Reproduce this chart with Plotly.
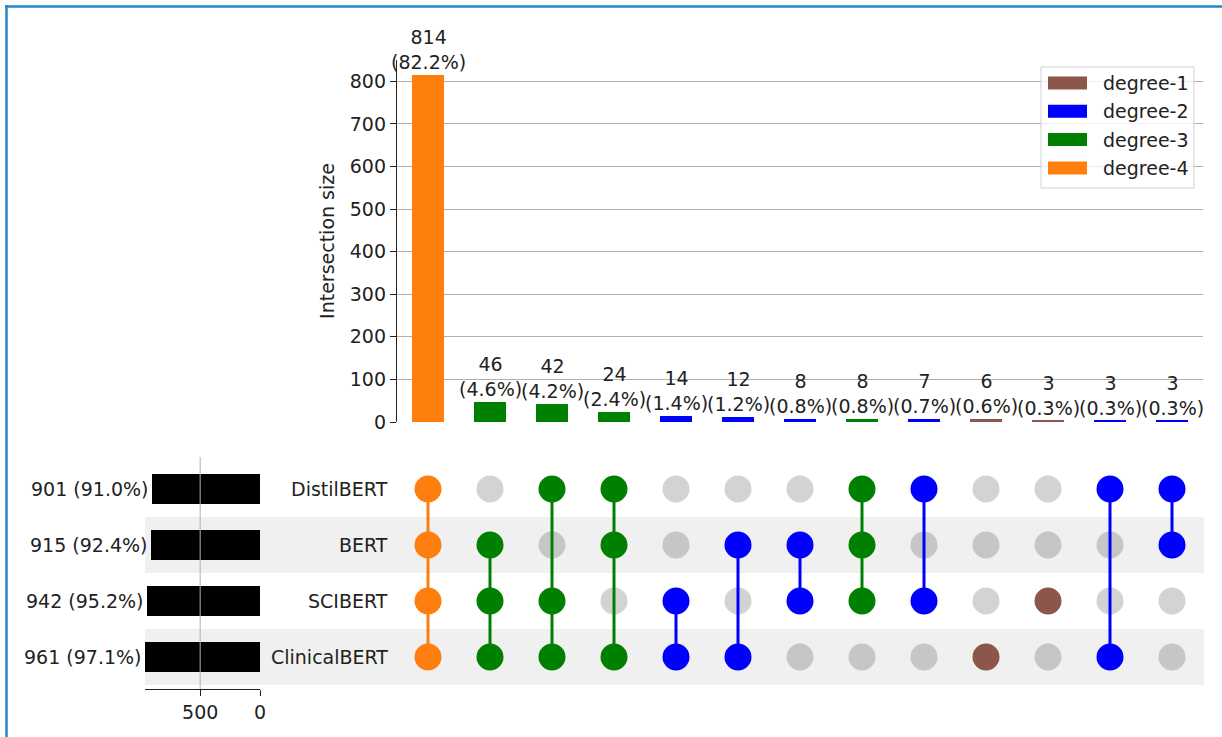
import plotly.graph_objects as go

# ---- data -------------------------------------------------------------
set_names = ["DistilBERT", "BERT", "SCIBERT", "ClinicalBERT"]
set_sizes = [901, 915, 942, 961]

intersection_sizes = [814, 46, 42, 24, 14, 12, 8, 8, 7, 6, 3, 3, 3]
intersection_members = [
    ["DistilBERT", "BERT", "SCIBERT", "ClinicalBERT"],
    ["BERT", "SCIBERT", "ClinicalBERT"],
    ["DistilBERT", "SCIBERT", "ClinicalBERT"],
    ["DistilBERT", "BERT", "ClinicalBERT"],
    ["SCIBERT", "ClinicalBERT"],
    ["BERT", "ClinicalBERT"],
    ["BERT", "SCIBERT"],
    ["DistilBERT", "BERT", "SCIBERT"],
    ["DistilBERT", "SCIBERT"],
    ["ClinicalBERT"],
    ["SCIBERT"],
    ["DistilBERT", "ClinicalBERT"],
    ["DistilBERT", "BERT"],
]

degree_labels = ["degree-1", "degree-2", "degree-3", "degree-4"]
degree_colors = ["#8c564b", "#0000ff", "#008000", "#ff7f0e"]

# ---- layout helpers (pixel geometry of a 1222 x 737 canvas) ---------
W, H = 1222, 737
FONT = "DejaVu Sans"
TXT = "#222222"
FS = 19


def px_x(p):
    return p / W


def px_y(p):
    return 1 - p / H


total = sum(intersection_sizes)
n_cols = len(intersection_sizes)
cols = list(range(n_cols))
degrees = [len(m) for m in intersection_members]
bar_colors = [degree_colors[d - 1] for d in degrees]

fig = go.Figure()

# ---- intersection size bars -----------------------------------------
fig.add_trace(go.Bar(
    x=cols, y=intersection_sizes, width=0.52,
    marker=dict(color=bar_colors, line=dict(width=0)),
    xaxis="x", yaxis="y", showlegend=False, hoverinfo="y",
))

annotations = []
for c, v in zip(cols, intersection_sizes):
    annotations.append(dict(
        x=c, y=v, xref="x", yref="y", xanchor="center", yanchor="bottom",
        text=f"{v}<br>({100 * v / total:.1f}%)", showarrow=False,
        font=dict(family=FONT, size=FS, color=TXT), yshift=0,
    ))

# ---- membership matrix ------------------------------------------------
row_of = {s: i for i, s in enumerate(set_names)}
shaded_rows = [1, 3]

inact_x, inact_y, inact_c = [], [], []
act_x, act_y, act_c = [], [], []
for c, members in enumerate(intersection_members):
    col = bar_colors[c]
    for r, s in enumerate(set_names):
        if s in members:
            act_x.append(c); act_y.append(r); act_c.append(col)
        else:
            inact_x.append(c); inact_y.append(r)
            inact_c.append("#c6c6c6" if r in shaded_rows else "#d3d3d3")

fig.add_trace(go.Scatter(
    x=inact_x, y=inact_y, mode="markers", xaxis="x2", yaxis="y2",
    marker=dict(size=27, color=inact_c, line=dict(width=0)),
    showlegend=False, hoverinfo="skip",
))

for c, members in enumerate(intersection_members):
    rows = [row_of[s] for s in members]
    if len(rows) > 1:
        fig.add_trace(go.Scatter(
            x=[c, c], y=[min(rows), max(rows)], mode="lines",
            xaxis="x2", yaxis="y2",
            line=dict(color=bar_colors[c], width=3),
            showlegend=False, hoverinfo="skip",
        ))

fig.add_trace(go.Scatter(
    x=act_x, y=act_y, mode="markers", xaxis="x2", yaxis="y2",
    marker=dict(size=27, color=act_c, line=dict(width=0)),
    showlegend=False, hoverinfo="skip",
))

# ---- set size bars ----------------------------------------------------
fig.add_trace(go.Bar(
    x=set_sizes, y=list(range(len(set_names))), orientation="h", width=0.52,
    marker=dict(color="#000000", line=dict(width=0)),
    xaxis="x3", yaxis="y3", showlegend=False, hoverinfo="x",
))

for r, (s, v) in enumerate(zip(set_names, set_sizes)):
    annotations.append(dict(
        x=v, y=r, xref="x3", yref="y3", xanchor="right", yanchor="middle",
        text=f"{v} ({100 * v / total:.1f}%)", showarrow=False, xshift=-1,
        font=dict(family=FONT, size=FS, color=TXT),
    ))
    annotations.append(dict(
        x=px_x(390), y=r, xref="paper", yref="y2", xanchor="right",
        yanchor="middle", text=s, showarrow=False,
        font=dict(family=FONT, size=FS, color=TXT),
    ))

# ---- shapes: row shading, grid line, legend, frame ---------------------
shapes = []
for r in shaded_rows:
    shapes.append(dict(
        type="rect", xref="paper", yref="y2", x0=px_x(145), x1=px_x(1204),
        y0=r - 0.5, y1=r + 0.5, fillcolor="#f0f0f0", line=dict(width=0),
        layer="below",
    ))

shapes.append(dict(
    type="line", xref="x3", yref="y3", x0=500, x1=500, y0=-0.5714, y1=3.5714,
    line=dict(color="#b0b0b0", width=1), layer="above",
))

# legend box
lx0, lx1, ly0, ly1 = 1041, 1194, 67, 188
shapes.append(dict(
    type="rect", xref="paper", yref="paper",
    x0=px_x(lx0), x1=px_x(lx1), y0=px_y(ly1), y1=px_y(ly0),
    fillcolor="rgba(255,255,255,0.8)", line=dict(color="#d0d0d0", width=1),
    layer="above",
))
for i, (lab, colr) in enumerate(zip(degree_labels, degree_colors)):
    cy = 83 + 28.3 * i
    shapes.append(dict(
        type="rect", xref="paper", yref="paper",
        x0=px_x(1048), x1=px_x(1087), y0=px_y(cy + 6.5), y1=px_y(cy - 6.5),
        fillcolor=colr, line=dict(width=0), layer="above",
    ))
    annotations.append(dict(
        x=px_x(1101), y=px_y(cy), xref="paper", yref="paper",
        xanchor="left", yanchor="middle", text=lab, showarrow=False,
        font=dict(family=FONT, size=FS, color=TXT),
    ))

# outer frame (top and left edges)
frame_col = "#1f8ac9"
shapes.append(dict(type="line", xref="paper", yref="paper",
                   x0=px_x(5), x1=1, y0=px_y(6.5), y1=px_y(6.5),
                   line=dict(color=frame_col, width=2.5), layer="above"))
shapes.append(dict(type="line", xref="paper", yref="paper",
                   x0=px_x(6.5), x1=px_x(6.5), y0=0, y1=px_y(5),
                   line=dict(color=frame_col, width=2.5), layer="above"))

# ---- axes -------------------------------------------------------------
x_dom = [px_x(397), px_x(1203)]
hidden = dict(showgrid=False, zeroline=False, showline=False,
              showticklabels=False, ticks="", automargin=False)

fig.update_layout(
    width=W, height=H,
    margin=dict(l=0, r=0, t=0, b=0, autoexpand=False),
    paper_bgcolor="white", plot_bgcolor="rgba(0,0,0,0)",
    font=dict(family=FONT, size=FS, color=TXT),
    bargap=0,
    xaxis=dict(domain=x_dom, range=[-0.5, n_cols - 0.5], anchor="y", **hidden),
    yaxis=dict(
        domain=[px_y(422), px_y(60)], range=[0, 850], anchor="x",
        tickvals=list(range(0, 801, 100)), ticks="outside", ticklen=6,
        tickcolor="#222", showline=True, linecolor="#222", linewidth=1.3,
        showgrid=True, gridcolor="#b0b0b0", gridwidth=1, zeroline=False,
        automargin=False,
        title=dict(text="Intersection size", standoff=10,
                   font=dict(family=FONT, size=FS, color=TXT)),
        tickfont=dict(family=FONT, size=FS, color=TXT),
    ),
    xaxis2=dict(domain=x_dom, range=[-0.5, n_cols - 0.5], anchor="y2", **hidden),
    yaxis2=dict(domain=[px_y(685), px_y(461)], range=[3.5, -0.5],
                anchor="x2", **hidden),
    xaxis3=dict(
        domain=[px_x(145), px_x(260)], range=[961, 0], anchor="y3",
        tickvals=[500, 0], ticks="outside", ticklen=6, tickcolor="#222",
        showline=True, linecolor="#222", linewidth=1.3, showgrid=False,
        zeroline=False, automargin=False,
        tickfont=dict(family=FONT, size=FS, color=TXT),
    ),
    yaxis3=dict(domain=[px_y(689), px_y(457)], range=[3.5714, -0.5714],
                anchor="x3", **hidden),
    shapes=shapes,
    annotations=annotations,
)

fig.write_html("out.html")
